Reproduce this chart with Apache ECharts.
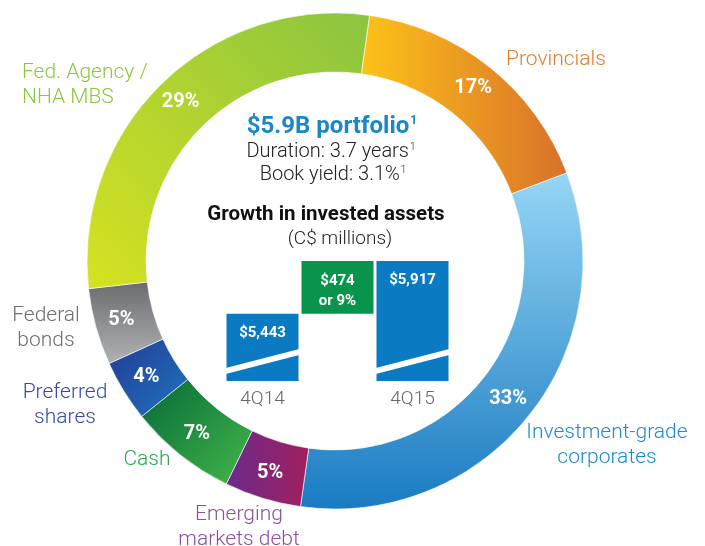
<!DOCTYPE html>
<html>
<head>
<meta charset="utf-8">
<script src="https://cdn.jsdelivr.net/npm/echarts@6/dist/echarts.min.js"></script>
<style>
  html, body { margin: 0; padding: 0; background: #fff; }
  #main { width: 705px; height: 546px; }
</style>
</head>
<body>
<div id="main"></div>
<script>
  // portfolio mix, clockwise from top
  const categories = ['Provincials', 'Investment-grade\ncorporates', 'Emerging\nmarkets debt', 'Cash', 'Preferred\nshares', 'Federal\nbonds', 'Fed. Agency /\nNHA MBS'];
  const shares = [17, 33, 5, 7, 4, 5, 29];

  // growth in invested assets (C$ millions)
  const quarters = ['4Q14', '', '4Q15'];
  const totals = [5443, '-', 5917];
  const growthBase = ['-', 5443, '-'];
  const growth = ['-', 474, '-'];
  const barLabels = ['$5,443', '$474\nor 9%', '$5,917'];

  const grad = (x, y, x2, y2, c1, c2) => new echarts.graphic.LinearGradient(x, y, x2, y2, [
    { offset: 0, color: c1 }, { offset: 1, color: c2 }
  ]);

  // one colour set per slice
  const sliceColors = [
    grad(0, 0, 1, 0, '#FDC219', '#D8712A'),
    grad(0, 0, 0, 1, '#96D6F5', '#1A7BC2'),
    grad(0, 0, 1, 0, '#6A2B8C', '#A11F5D'),
    grad(0, 0, 1, 1, '#056A37', '#43B74A'),
    grad(0, 0, 1, 1, '#233C94', '#1E74BE'),
    grad(0, 0, 0, 1, '#6B6C6F', '#B1B2B4'),
    grad(0, 1, 1, 0, '#D6E221', '#8AC440')
  ];
  const textColors = ['#E07E2C', '#1E8AD0', '#8A4FA2', '#25A94B', '#3449A0', '#6D6E71', '#8DC63F'];
  // where the category names sit
  const namePos = [
    { x: 506, y: 60, align: 'left' },
    { x: 607, y: 445, align: 'center' },
    { x: 239, y: 527, align: 'center' },
    { x: 147, y: 460, align: 'center' },
    { x: 65, y: 405, align: 'center' },
    { x: 46, y: 328, align: 'center' },
    { x: 22, y: 85, align: 'left' }
  ];

  const chart = echarts.init(document.getElementById('main'));
  const font = 'Roboto, "Liberation Sans", sans-serif';

  const supText = (x, y, txt, size, weight, color) => ({
    type: 'text',
    style: {
      x: x, y: y, align: 'center', verticalAlign: 'middle',
      text: '{m|' + txt + '}{s|1}',
      rich: {
        m: { fontSize: size, fontWeight: weight, fontFamily: font, fill: color, color: color },
        s: { fontSize: Math.round(size * 0.5), fontWeight: weight, fontFamily: font, fill: color, color: color, verticalAlign: 'top', padding: [0, 0, Math.round(size * 0.45), 1] }
      }
    }
  });

  const option = {
    backgroundColor: '#fff',
    animation: false,
    textStyle: { fontFamily: font },
    grid: { left: 225, right: 255, top: 261, bottom: 165 },
    xAxis: {
      type: 'category',
      data: quarters,
      axisLine: { show: false },
      axisTick: { show: false },
      axisLabel: { color: '#666', fontSize: 19, margin: 9, fontFamily: font, fontWeight: 300 }
    },
    yAxis: {
      type: 'value',
      min: 4840,
      max: 5917,
      show: false,
      splitLine: { show: false }
    },
    graphic: [
      supText(332, 127, '$5.9B portfolio', 24, 'bold', '#1B86C8'),
      supText(331, 152, 'Duration: 3.7 years', 20, 300, '#222'),
      supText(333, 175, 'Book yield: 3.1%', 20, 300, '#222'),
      { type: 'text', style: { x: 326, y: 215, text: 'Growth in invested assets', fill: '#111', font: 'bold 20.5px ' + font, align: 'center', verticalAlign: 'middle' } },
      { type: 'text', style: { x: 340, y: 239, text: '(C$ millions)', fill: '#222', font: '300 19px ' + font, align: 'center', verticalAlign: 'middle' } }
    ],
    series: [
      {
        type: 'pie',
        center: [335, 261],
        radius: [189, 248],
        startAngle: 82,
        clockwise: true,
        silent: true,
        itemStyle: { borderColor: '#fff', borderWidth: 0.6 },
        label: {
          position: 'inside',
          formatter: '{c}%',
          color: '#fff',
          fontSize: 20,
          fontWeight: 'bold',
          fontFamily: font
        },
        labelLine: { show: false },
        data: shares.map((v, i) => ({ name: categories[i], value: v, itemStyle: { color: sliceColors[i] } }))
      },
      {
        // transparent twin of the ring, carries the outer names
        type: 'pie',
        center: [335, 261],
        radius: [189, 248],
        startAngle: 82,
        silent: true,
        itemStyle: { color: 'rgba(0,0,0,0)' },
        label: {
          position: 'outside',
          formatter: '{b}',
          fontSize: 21,
          fontWeight: 300,
          lineHeight: 25,
          overflow: 'none',
          width: 200,
          fontFamily: font
        },
        labelLine: { show: false },
        labelLayout: (p) => ({
          x: namePos[p.dataIndex].x,
          y: namePos[p.dataIndex].y,
          align: namePos[p.dataIndex].align,
          verticalAlign: 'middle'
        }),
        data: shares.map((v, i) => ({
          name: categories[i], value: v,
          label: { color: textColors[i], align: namePos[i].align }
        }))
      },
      {
        type: 'bar',
        stack: 'w',
        barWidth: 72,
        data: totals,
        itemStyle: { color: '#0A7BC2' },
        label: {
          show: true, position: 'insideTop', distance: 12,
          color: '#fff', fontWeight: 'bold', fontSize: 15, fontFamily: font,
          formatter: (p) => barLabels[p.dataIndex]
        }
      },
      {
        type: 'bar',
        stack: 'w',
        barWidth: 72,
        data: growthBase,
        itemStyle: { color: 'rgba(0,0,0,0)' }
      },
      {
        type: 'bar',
        stack: 'w',
        barWidth: 72,
        data: growth,
        itemStyle: { color: '#08944A' },
        label: {
          show: true, position: 'insideTop', distance: 10,
          color: '#fff', fontWeight: 'bold', fontSize: 15, lineHeight: 20, fontFamily: font,
          formatter: (p) => barLabels[p.dataIndex]
        }
      },
      {
        // axis break marks across the blue bars
        type: 'custom',
        silent: true,
        z: 10,
        data: [[0, 4930, 5100], [2, 4930, 5100]],
        renderItem: (params, api) => {
          const lo = api.coord([api.value(0), api.value(1)]);
          const hi = api.coord([api.value(0), api.value(2)]);
          const half = api.size([1, 0])[0] * 0.49;
          const x0 = lo[0] - half, x1 = lo[0] + half;
          return {
            type: 'polygon',
            shape: { points: [[x0, lo[1] - 3], [x1, hi[1] - 3], [x1, hi[1] + 3], [x0, lo[1] + 3]] },
            style: { fill: '#fff' }
          };
        }
      }
    ]
  };

  chart.setOption(option);
</script>
</body>
</html>
